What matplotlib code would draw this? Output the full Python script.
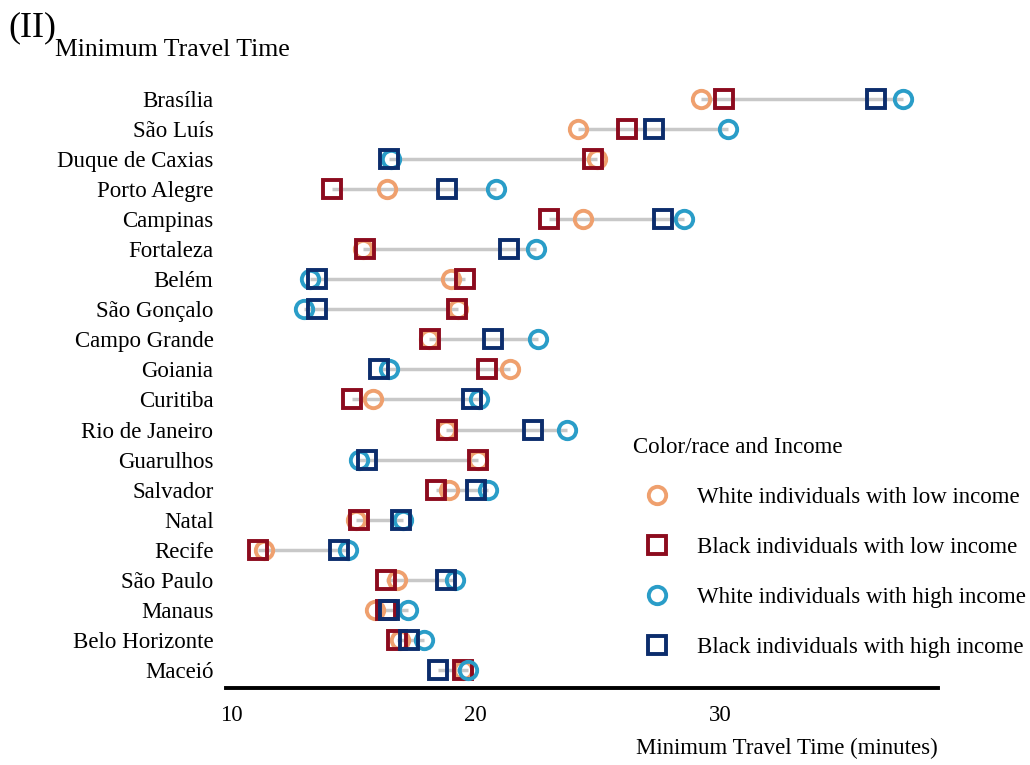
import matplotlib.pyplot as plt
from matplotlib.lines import Line2D

plt.rcParams["font.family"] = ["Liberation Serif", "DejaVu Serif"]

cities = [
    "Brasília", "São Luís", "Duque de Caxias", "Porto Alegre", "Campinas",
    "Fortaleza", "Belém", "São Gonçalo", "Campo Grande", "Goiania",
    "Curitiba", "Rio de Janeiro", "Guarulhos", "Salvador", "Natal",
    "Recife", "São Paulo", "Manaus", "Belo Horizonte", "Maceió",
]

# minutes, one value per city in the order above
white_low = [29.2, 24.2, 24.95, 16.4, 24.4, 15.4, 19.0, 19.3, 18.1, 21.4,
             15.8, 18.8, 20.1, 18.9, 15.1, 11.35, 16.8, 15.9, 16.9, 19.5]
black_low = [30.15, 26.2, 24.8, 14.15, 23.0, 15.5, 19.55, 19.25, 18.15, 20.45,
             14.95, 18.85, 20.1, 18.4, 15.25, 11.1, 16.35, 16.35, 16.8, 19.5]
white_high = [37.45, 30.3, 16.55, 20.85, 28.5, 22.45, 13.25, 13.0, 22.55, 16.45,
              20.15, 23.75, 15.25, 20.5, 17.05, 14.8, 19.15, 17.25, 17.9, 19.7]
black_high = [36.35, 27.3, 16.45, 18.85, 27.65, 21.35, 13.5, 13.5, 20.7, 16.05,
              19.85, 22.35, 15.55, 20.0, 16.95, 14.4, 18.8, 16.45, 17.3, 18.45]

groups = [
    ("White individuals with low income", white_low, "o", "#EFA06E"),
    ("Black individuals with low income", black_low, "s", "#8C0B1E"),
    ("White individuals with high income", white_high, "o", "#2A9DC8"),
    ("Black individuals with high income", black_high, "s", "#0C2D6C"),
]

FS = 16.5

fig = plt.figure(figsize=(10.3, 7.65), dpi=100)
ax = fig.add_axes([0.2194, 0.1007, 0.6913, 0.7935])

ypos = list(range(len(cities)))
for i, y in enumerate(ypos):
    vals = [g[1][i] for g in groups]
    ax.plot([min(vals), max(vals)], [y, y], color="#C8C8C8", lw=2.5,
            zorder=1, solid_capstyle="butt")

for label, vals, marker, color in groups:
    ax.plot(vals, ypos, linestyle="none", marker=marker,
            markersize=12.5 if marker == "o" else 13,
            markerfacecolor="none", markeredgecolor=color,
            markeredgewidth=2.8, zorder=2, label=label)

ax.set_ylim(len(cities) - 0.4, -0.6)
ax.set_xlim(9.8, 38.9)
ax.set_yticks(ypos)
ax.set_yticklabels(cities, fontsize=FS)
ax.set_xticks([10, 20, 30])
ax.set_xticklabels(["10", "20", "30"], fontsize=FS)
ax.tick_params(length=0)
ax.tick_params(axis="x", pad=12)
ax.tick_params(axis="y", pad=9)

for side in ["top", "right", "left"]:
    ax.spines[side].set_visible(False)
ax.spines["bottom"].set_linewidth(2.8)

ax.set_xlabel("Minimum Travel Time (minutes)", fontsize=FS, loc="right",
              labelpad=9)

handles = [
    Line2D([], [], linestyle="none", marker=m, markersize=12.5 if m == "o" else 13,
           markerfacecolor="none", markeredgecolor=c, markeredgewidth=2.8)
    for _, _, m, c in groups
]
leg = ax.legend(handles, [g[0] for g in groups], title="Color/race and Income",
                loc="upper left", bbox_to_anchor=(0.571, 0.4135),
                frameon=False, fontsize=FS, title_fontsize=FS,
                labelspacing=1.255, handlelength=2.15, handletextpad=0.65,
                alignment="left", borderaxespad=0, borderpad=0)
leg._legend_box.sep = 21

fig.text(0.008, 0.963, "(II)", fontsize=26, ha="left", va="center")
fig.text(0.053, 0.935, "Minimum Travel Time", fontsize=18.5, ha="left", va="center")

fig.savefig("out.png", dpi=100)
